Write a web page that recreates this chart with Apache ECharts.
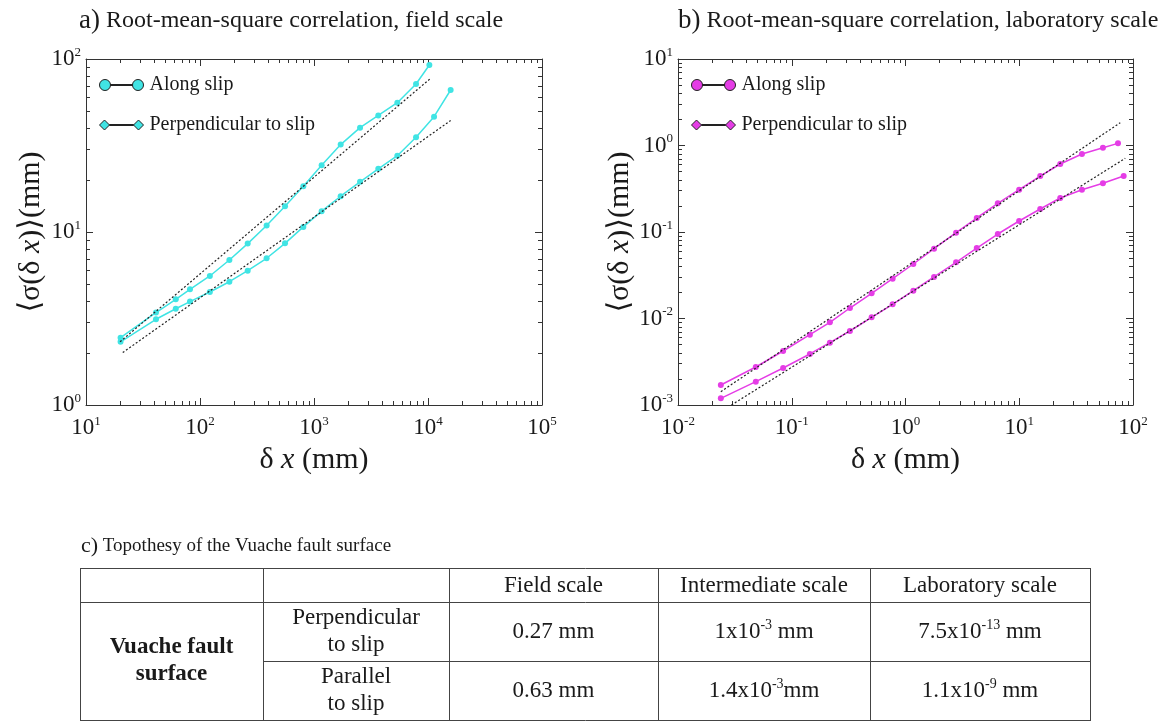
<!DOCTYPE html>
<html>
<head>
<meta charset="utf-8">
<script src="https://cdn.jsdelivr.net/npm/echarts@6/dist/echarts.min.js"></script>
<style>
html,body{margin:0;padding:0;background:#ffffff;}
#chart{width:1165px;height:722px;}
</style>
</head>
<body>
<div id="chart"></div>
<script>
// ---------------- DATA ----------------
// a) Field scale (mm)
const fieldPerpX = [20.1, 41.1, 61.3, 81.7, 122, 181, 262, 384, 557, 806, 1167, 1714, 2535, 3664, 5383, 7853, 10280];
const fieldPerpY = [2.45, 3.42, 4.08, 4.66, 5.57, 6.89, 8.57, 10.9, 14.1, 18.4, 24.3, 32.0, 40.1, 47.2, 55.9, 71.7, 92.3];
const fieldAlongX = [20.1, 41.1, 61.3, 81.7, 122, 181, 262, 384, 557, 806, 1167, 1714, 2535, 3664, 5383, 7853, 11300, 15800];
const fieldAlongY = [2.32, 3.13, 3.60, 3.96, 4.50, 5.16, 5.98, 7.05, 8.60, 10.7, 13.2, 16.1, 19.5, 23.2, 27.6, 35.3, 46.4, 66.2];
const fieldFitPerpX = [19.9, 10540];
const fieldFitPerpY = [2.32, 77.3];
const fieldFitAlongX = [21.0, 15800];
const fieldFitAlongY = [2.01, 44.1];

// b) Laboratory scale (mm)
const labPerpX = [0.0238, 0.0483, 0.0840, 0.1443, 0.2164, 0.3246, 0.5038, 0.7706, 1.172, 1.782, 2.784, 4.232, 6.478, 9.98, 15.29, 22.93, 35.56, 54.4, 73.8];
const labPerpY = [0.001703, 0.00275, 0.00421, 0.0065, 0.00903, 0.01322, 0.01954, 0.02886, 0.04266, 0.0642, 0.0982, 0.1452, 0.2145, 0.3085, 0.4437, 0.611, 0.798, 0.944, 1.059];
const labAlongX = [0.0238, 0.0483, 0.0840, 0.1443, 0.2164, 0.3246, 0.5038, 0.7706, 1.172, 1.782, 2.784, 4.232, 6.478, 9.98, 15.29, 22.93, 35.56, 54.4, 82.8];
const labAlongY = [0.001194, 0.00186, 0.00268, 0.00389, 0.00526, 0.00717, 0.01031, 0.01459, 0.02099, 0.0302, 0.0446, 0.0653, 0.0948, 0.134, 0.1845, 0.247, 0.3085, 0.3654, 0.4437];
const labFitPerpX = [0.0238, 77.3];
const labFitPerpY = [0.001426, 1.836];
const labFitAlongX = [0.0295, 85.5];
const labFitAlongY = [0.001, 0.711];

// axis ranges (decade exponents)
const fieldXExp = [1, 5];
const fieldYExp = [0, 2];
const labXExp = [-2, 2];
const labYExp = [-3, 1];
const minorMultipliers = [2, 3, 4, 5, 6, 7, 8, 9];

// legend / titles
const seriesNames = ['Along slip', 'Perpendicular to slip'];
const titleA = ['a)', ' Root-mean-square correlation, field scale'];
const titleB = ['b)', ' Root-mean-square correlation, laboratory scale'];
const titleC = ['c)', ' Topothesy of the Vuache fault surface'];

// c) table
const tableHeader = ['', '', 'Field scale', 'Intermediate scale', 'Laboratory scale'];
const tableGroup = 'Vuache fault\nsurface';
const tableRowLabels = ['Perpendicular\nto slip', 'Parallel\nto slip'];
const tablePerp = ['0.27 mm', '1x10^{-3} mm', '7.5x10^{-13} mm'];
const tablePar = ['0.63 mm', '1.4x10^{-3}mm', '1.1x10^{-9} mm'];

// ---------------- STYLE ----------------
const SERIF = '"Liberation Serif", "Times New Roman", "DejaVu Serif", serif';
const CYAN = '#40e4e4';
const MAGENTA = '#e53de6';
const AX = '#333333';
const TXT = '#1a1a1a';

function zip(xs, ys) { return xs.map((x, i) => [x, ys[i]]); }
function minorTicks(exp) {
  const out = [];
  for (let e = exp[0]; e < exp[1]; e++) {
    minorMultipliers.forEach(m => out.push(parseFloat((m * Math.pow(10, e)).toPrecision(6))));
  }
  return out;
}
const labelRich = {
  b: { fontFamily: SERIF, fontSize: 23, color: TXT, lineHeight: 26 },
  s: { fontFamily: SERIF, fontSize: 13, color: TXT, verticalAlign: 'top', lineHeight: 26 }
};
function powLabel(v) {
  const e = Math.round(Math.log10(v));
  return '{b|10}{s|' + e + '}';
}
const nameRich = {
  n: { fontFamily: SERIF, fontSize: 30, color: TXT },
  i: { fontFamily: SERIF, fontSize: 30, color: TXT, fontStyle: 'italic' }
};

function xAxes(grid, exp) {
  const base = { type: 'log', logBase: 10, min: Math.pow(10, exp[0]), max: Math.pow(10, exp[1]), gridIndex: grid, splitLine: { show: false } };
  const minor = minorTicks(exp);
  return [
    Object.assign({}, base, {
      position: 'bottom',
      axisLine: { show: true, lineStyle: { color: AX, width: 1 } },
      axisTick: { show: true, inside: true, length: 7, lineStyle: { color: AX } },
      axisLabel: { show: true, formatter: powLabel, rich: labelRich, margin: 10 },
      name: '{n|δ }{i|x}{n| (mm)}', nameLocation: 'middle', nameGap: 40,
      nameTextStyle: { rich: nameRich }
    }),
    Object.assign({}, base, {
      position: 'bottom',
      axisLine: { show: false },
      axisTick: { show: true, inside: true, length: 4, lineStyle: { color: AX }, customValues: minor },
      axisLabel: { show: false }
    }),
    Object.assign({}, base, {
      position: 'top',
      axisLine: { show: true, lineStyle: { color: AX, width: 1 } },
      axisTick: { show: true, inside: true, length: 7, lineStyle: { color: AX } },
      axisLabel: { show: false }
    }),
    Object.assign({}, base, {
      position: 'top',
      axisLine: { show: false },
      axisTick: { show: true, inside: true, length: 4, lineStyle: { color: AX }, customValues: minor },
      axisLabel: { show: false }
    })
  ];
}
function yAxes(grid, exp) {
  const base = { type: 'log', logBase: 10, min: Math.pow(10, exp[0]), max: Math.pow(10, exp[1]), gridIndex: grid, splitLine: { show: false } };
  const minor = minorTicks(exp);
  return [
    Object.assign({}, base, {
      position: 'left',
      axisLine: { show: true, lineStyle: { color: AX, width: 1 } },
      axisTick: { show: true, inside: true, length: 7, lineStyle: { color: AX } },
      axisLabel: { show: true, formatter: powLabel, rich: labelRich, margin: 5 },
      name: '{n|⟨σ(δ }{i|x}{n|)⟩(mm)}', nameLocation: 'middle', nameGap: 40,
      nameTextStyle: { rich: nameRich }
    }),
    Object.assign({}, base, {
      position: 'left',
      axisLine: { show: false },
      axisTick: { show: true, inside: true, length: 4, lineStyle: { color: AX }, customValues: minor },
      axisLabel: { show: false }
    }),
    Object.assign({}, base, {
      position: 'right',
      axisLine: { show: true, lineStyle: { color: AX, width: 1 } },
      axisTick: { show: true, inside: true, length: 7, lineStyle: { color: AX } },
      axisLabel: { show: false }
    }),
    Object.assign({}, base, {
      position: 'right',
      axisLine: { show: false },
      axisTick: { show: true, inside: true, length: 4, lineStyle: { color: AX }, customValues: minor },
      axisLabel: { show: false }
    })
  ];
}

function dataSeries(name, xi, yi, xs, ys, color) {
  return {
    type: 'line', name: name, xAxisIndex: xi, yAxisIndex: yi,
    data: zip(xs, ys), symbol: 'circle', symbolSize: 6,
    lineStyle: { width: 1.5, color: color }, itemStyle: { color: color },
    z: 3, silent: true
  };
}
function fitSeries(xi, yi, xs, ys) {
  return {
    type: 'line', xAxisIndex: xi, yAxisIndex: yi, data: zip(xs, ys),
    symbol: 'none', lineStyle: { width: 1.2, color: '#222', type: [2, 2] }, z: 4, silent: true
  };
}

const ICON_CIRCLE = 'path://M0,5.5a5.5,5.5 0 1,0 11,0a5.5,5.5 0 1,0 -11,0zM11,5h22v1h-22zM33,5.5a5.5,5.5 0 1,0 11,0a5.5,5.5 0 1,0 -11,0z';
const ICON_DIAMOND = 'path://M0,5.5L5,0.5L10,5.5L5,10.5zM10,5h24v1h-24zM34,5.5L39,0.5L44,5.5L39,10.5z';

function legendFor(left, color) {
  return {
    orient: 'vertical', left: left, top: 70, itemWidth: 44, itemHeight: 11, itemGap: 20,
    selectedMode: false,
    textStyle: { fontFamily: SERIF, fontSize: 20, color: TXT, padding: [0, 0, 0, 1] },
    data: [
      { name: seriesNames[0], icon: ICON_CIRCLE, itemStyle: { color: color, borderColor: '#222', borderWidth: 1 } },
      { name: seriesNames[1], icon: ICON_DIAMOND, itemStyle: { color: color, borderColor: '#222', borderWidth: 1 } }
    ]
  };
}

function titleFor(parts, left, top, size, bigSize) {
  return {
    text: '{p|' + parts[0] + '}{t|' + parts[1] + '}', left: left, top: top,
    textStyle: {
      fontWeight: 'normal',
      rich: {
        p: { fontFamily: SERIF, fontSize: bigSize, color: TXT, fontWeight: 'normal' },
        t: { fontFamily: SERIF, fontSize: size, color: TXT, fontWeight: 'normal' }
      }
    }
  };
}

// ---------------- TABLE (graphic) ----------------
const TCOL = [80, 263, 449, 658, 870, 1090];
const TROW = [568, 602, 661, 720];
function supText(s) { return s.replace(/\^\{([^}]*)\}/g, '{s|$1}'); }
const tableRich = { s: { fontFamily: SERIF, fontSize: 14, color: TXT, verticalAlign: 'top', lineHeight: 24 } };
const graphics = [];
function hline(y, x1, x2) { graphics.push({ type: 'line', silent: true, shape: { x1: x1, y1: y + 0.5, x2: x2, y2: y + 0.5 }, style: { stroke: '#444', lineWidth: 1 } }); }
function vline(x, y1, y2) { graphics.push({ type: 'line', silent: true, shape: { x1: x + 0.5, y1: y1, x2: x + 0.5, y2: y2 }, style: { stroke: '#444', lineWidth: 1 } }); }
function cellText(txt, cx, cy, bold) {
  graphics.push({
    type: 'text', silent: true, x: cx, y: cy,
    style: {
      text: supText(txt), fill: TXT, fontFamily: SERIF, fontSize: 23,
      fontWeight: bold ? 'bold' : 'normal', lineHeight: 27,
      align: 'center', verticalAlign: 'middle', rich: tableRich
    }
  });
}
hline(TROW[0], TCOL[0], TCOL[5] + 1);
hline(TROW[1], TCOL[0], TCOL[5] + 1);
hline(TROW[2], TCOL[1], TCOL[5] + 1);
hline(TROW[3], TCOL[0], TCOL[5] + 1);
TCOL.forEach(x => vline(x, TROW[0], TROW[3] + 1));
const mid = (a, b) => (a + b) / 2;
tableHeader.forEach((h, i) => { if (h) cellText(h, mid(TCOL[i], TCOL[i + 1]), mid(TROW[0], TROW[1]) + 1); });
cellText(tableGroup, mid(TCOL[0], TCOL[1]), mid(TROW[1], TROW[3]), true);
tableRowLabels.forEach((r, i) => cellText(r, mid(TCOL[1], TCOL[2]), mid(TROW[i + 1], TROW[i + 2])));
tablePerp.forEach((v, i) => cellText(v, mid(TCOL[i + 2], TCOL[i + 3]), mid(TROW[1], TROW[2])));
tablePar.forEach((v, i) => cellText(v, mid(TCOL[i + 2], TCOL[i + 3]), mid(TROW[2], TROW[3])));

// ---------------- OPTION ----------------
const chart = echarts.init(document.getElementById('chart'), null, { renderer: 'canvas' });
const option = {
  animation: false,
  backgroundColor: '#ffffff',
  title: [
    titleFor(titleA, 74, 2, 24, 27),
    titleFor(titleB, 673, 2, 24, 27),
    titleFor(titleC, 76, 530, 19, 22)
  ],
  legend: [legendFor(94, CYAN), legendFor(686, MAGENTA)],
  grid: [
    { left: 86, top: 59, width: 456, height: 346 },
    { left: 678, top: 59, width: 455, height: 346 }
  ],
  xAxis: [].concat(xAxes(0, fieldXExp), xAxes(1, labXExp)),
  yAxis: [].concat(yAxes(0, fieldYExp), yAxes(1, labYExp)),
  series: [
    dataSeries(seriesNames[1], 0, 0, fieldPerpX, fieldPerpY, CYAN),
    dataSeries(seriesNames[0], 0, 0, fieldAlongX, fieldAlongY, CYAN),
    fitSeries(0, 0, fieldFitPerpX, fieldFitPerpY),
    fitSeries(0, 0, fieldFitAlongX, fieldFitAlongY),
    dataSeries(seriesNames[1], 4, 4, labPerpX, labPerpY, MAGENTA),
    dataSeries(seriesNames[0], 4, 4, labAlongX, labAlongY, MAGENTA),
    fitSeries(4, 4, labFitPerpX, labFitPerpY),
    fitSeries(4, 4, labFitAlongX, labFitAlongY)
  ],
  graphic: graphics
};
chart.setOption(option);
</script>
</body>
</html>
